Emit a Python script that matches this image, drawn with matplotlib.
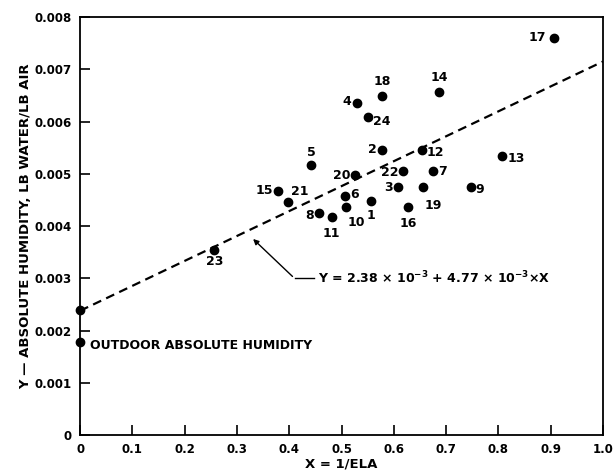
import numpy as np
import matplotlib.pyplot as plt

plt.rcParams['font.family'] = 'DejaVu Sans'
plt.rcParams['font.weight'] = 'bold'

# house data: x = 1/ELA, y = absolute humidity
labels = ["17", "14", "18", "4", "24", "2", "12", "13", "5", "20", "22", "7",
          "3", "19", "16", "9", "15", "21", "6", "1", "10", "8", "11", "23"]
x_vals = [0.906, 0.687, 0.577, 0.530, 0.550, 0.577, 0.653, 0.807, 0.442, 0.526, 0.618, 0.675,
          0.607, 0.655, 0.627, 0.747, 0.378, 0.397, 0.507, 0.557, 0.508, 0.457, 0.481, 0.257]
y_vals = [0.00760, 0.00657, 0.00648, 0.00636, 0.00608, 0.00546, 0.00546, 0.00535, 0.00517,
          0.00497, 0.00506, 0.00505, 0.00475, 0.00475, 0.00437, 0.00474, 0.00467, 0.00446,
          0.00458, 0.00448, 0.00437, 0.00426, 0.00417, 0.00354]

intercept_pt = (0.0, 0.00239)
outdoor_pt = (0.0, 0.00179)

fit_a = 2.38e-3
fit_b = 4.77e-3

x_ticks = [0, 0.1, 0.2, 0.3, 0.4, 0.5, 0.6, 0.7, 0.8, 0.9, 1.0]
x_tick_labels = ["0", "0.1", "0.2", "0.3", "0.4", "0.5", "0.6", "0.7", "0.8", "0.9", "1.0"]
y_ticks = [0, 0.001, 0.002, 0.003, 0.004, 0.005, 0.006, 0.007, 0.008]
y_tick_labels = ["0", "0.001", "0.002", "0.003", "0.004", "0.005", "0.006", "0.007", "0.008"]

# label offsets in pixels (dx, dy, ha)
offsets = {
    "17": (-8, 0, "right"), "14": (0, 14, "center"), "18": (0, 15, "center"),
    "4": (-6, 1, "right"), "24": (5, -4, "left"), "2": (-5, 0, "right"),
    "12": (5, -3, "left"), "13": (5, -3, "left"), "5": (0, 12, "center"),
    "20": (-5, 0, "right"), "22": (-5, -2, "right"), "7": (5, 0, "left"),
    "3": (-5, -1, "right"), "19": (2, -19, "left"), "16": (0, -17, "center"),
    "9": (5, -2, "left"), "15": (-5, 1, "right"), "21": (3, 11, "left"),
    "6": (5, 1, "left"), "1": (0, -14, "center"), "10": (2, -16, "left"),
    "8": (-5, -3, "right"), "11": (0, -16, "center"), "23": (0, -11, "center"),
}

fig = plt.figure(figsize=(6.16, 4.73), dpi=100)
ax = fig.add_axes([0.130, 0.080, 0.849, 0.884])

xs = np.array([0.0, 1.0])
ax.plot(xs, fit_a + fit_b * xs, color="black", lw=1.6, ls=(0, (4, 2.5)), zorder=2)

ax.plot(x_vals, y_vals, "o", color="black", ms=6, zorder=3, clip_on=False)
ax.plot(*intercept_pt, "o", color="black", ms=6, zorder=3, clip_on=False)
ax.plot(*outdoor_pt, "o", color="black", ms=6, zorder=3, clip_on=False)

for lab, xv, yv in zip(labels, x_vals, y_vals):
    dx, dy, ha = offsets[lab]
    ax.annotate(lab, (xv, yv), xytext=(dx, dy), textcoords="offset pixels",
                ha=ha, va="center", fontsize=9, fontweight="bold")

ax.annotate("OUTDOOR ABSOLUTE HUMIDITY", outdoor_pt, xytext=(10, -4),
            textcoords="offset pixels", ha="left", va="center", fontsize=9, fontweight="bold")

# fit annotation with leader line
ax.plot([0.41, 0.447], [0.0030, 0.0030], color="black", lw=1)
ax.annotate("", xy=(0.327, 0.00379), xytext=(0.41, 0.0030),
            arrowprops=dict(arrowstyle="-|>", color="black", lw=1, mutation_scale=8))
ax.text(0.455, 0.0030, r"Y = 2.38 $\times$ 10$^{-3}$ + 4.77 $\times$ 10$^{-3}$$\times$X",
        ha="left", va="center", fontsize=9, fontweight="bold")

ax.set_xlim(0, 1.0)
ax.set_ylim(0, 0.008)
ax.set_xticks(x_ticks)
ax.set_xticklabels(x_tick_labels)
ax.set_yticks(y_ticks)
ax.set_yticklabels(y_tick_labels)
ax.tick_params(direction="in", length=7, width=1.2, labelsize=8.5, pad=6)
for lbl in ax.get_xticklabels() + ax.get_yticklabels():
    lbl.set_fontweight("bold")
for sp in ax.spines.values():
    sp.set_linewidth(1.3)

ax.set_xlabel("X = 1/ELA", fontsize=9.5, fontweight="bold", labelpad=1)
ax.set_ylabel("Y \u2014 ABSOLUTE HUMIDITY, LB WATER/LB AIR", fontsize=9.5, fontweight="bold", labelpad=2)

fig.savefig("out.png", dpi=100)
